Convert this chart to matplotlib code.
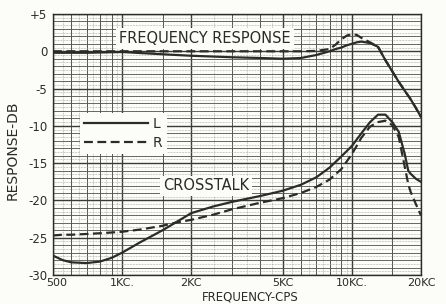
import matplotlib
matplotlib.use("Agg")
import matplotlib.pyplot as plt
import matplotlib.transforms as mtransforms
import numpy as np
from matplotlib.lines import Line2D

# ---- data ----
resp_freqs = [500, 700, 1000, 1500, 2000, 3000, 4000, 5000, 6000, 7000, 8000, 8500, 9000,
              9500, 10000, 10500, 11000, 12000, 13000, 14000, 15000, 16000, 17000, 18000, 19000, 20000]
resp_L = [-0.2, -0.2, -0.1, -0.4, -0.6, -0.8, -0.9, -1.0, -0.9, -0.5, 0.0, 0.3, 0.5,
          0.8, 1.0, 1.2, 1.3, 1.1, 0.6, -1.2, -2.7, -4.1, -5.3, -6.4, -7.6, -8.8]
resp_R = [0.0, 0.0, 0.0, 0.0, 0.0, 0.0, 0.0, 0.0, 0.0, 0.05, 0.3, 0.9, 1.6,
          2.1, 2.3, 2.2, 1.8, 1.2, 0.6, -1.2, -2.7, -4.1, -5.3, -6.4, -7.6, -8.8]

xtalk_freqs = [500, 550, 600, 700, 800, 900, 1000, 1200, 1500, 1700, 2000, 2500, 3000, 4000,
               5000, 6000, 7000, 8000, 9000, 10000, 11000, 12000, 13000, 14000, 15000, 16000,
               17000, 17600, 18000, 19000, 20000]
xtalk_L = [-27.4, -28.0, -28.3, -28.4, -28.2, -27.7, -27.0, -25.6, -24.0, -23.0, -21.7, -20.8,
           -20.2, -19.4, -18.7, -17.9, -16.9, -15.6, -14.1, -12.7, -11.0, -9.5, -8.5, -8.5,
           -9.5, -10.8, -13.8, -16.0, -16.4, -17.1, -17.5]
xtalk_R = [-24.7, -24.6, -24.6, -24.5, -24.4, -24.3, -24.2, -23.9, -23.4, -23.0, -22.6, -21.9,
           -21.2, -20.3, -19.7, -19.0, -18.2, -17.2, -15.8, -13.8, -11.6, -10.1, -9.5, -9.3,
           -9.9, -11.5, -15.5, -17.8, -18.8, -20.5, -22.0]

x_ticks = [500, 1000, 2000, 5000, 10000, 20000]
x_ticklabels = ["500", "1KC.", "2KC", "5KC", "10KC.", "20KC"]
y_ticks = [5, 0, -5, -10, -15, -20, -25, -30]
y_ticklabels = ["+5", "0", "-5", "-10", "-15", "-20", "-25", "-30"]

ink = "#2b2b28"
paper = "#fcfcf8"

fig = plt.figure(figsize=(4.46, 3.04), dpi=100, facecolor=paper)
ax = fig.add_axes([53/446, 1 - 275/304, 368/446, 261/304])
ax.set_facecolor(paper)
ax.set_xscale("log")
ax.set_xlim(500, 20000)
ax.set_ylim(-30, 5)

# graph-paper grid
fine_x = []
for dec in [100, 1000, 10000]:
    for m in np.arange(1, 10, 0.5):
        v = m * dec
        if 500 <= v <= 20000:
            fine_x.append(v)
minor_x = [600, 700, 800, 900, 1500, 3000, 4000, 6000, 7000, 8000, 9000, 15000]
for v in fine_x:
    ax.axvline(v, color="#9a9a94", lw=0.5, ls=(0, (1, 1.2)), zorder=0)
for v in minor_x:
    ax.axvline(v, color="#55554f", lw=0.7, zorder=0)
for v in x_ticks:
    ax.axvline(v, color="#3a3a36", lw=1.0, zorder=0)
for v in np.arange(-30, 5.01, 0.5):
    ax.axhline(v, color="#9a9a94", lw=0.5, ls=(0, (1, 1.2)), zorder=0)
for v in range(-30, 6):
    ax.axhline(v, color="#55554f", lw=0.6, zorder=0)
for v in y_ticks:
    ax.axhline(v, color="#3a3a36", lw=1.0, zorder=0)

ax.plot(resp_freqs, resp_L, color=ink, lw=1.6, solid_capstyle="round", zorder=3)
ax.plot(resp_freqs, resp_R, color=ink, lw=1.6, ls=(0, (4, 2)), zorder=3)
ax.plot(xtalk_freqs, xtalk_L, color=ink, lw=1.6, zorder=3)
ax.plot(xtalk_freqs, xtalk_R, color=ink, lw=1.6, ls=(0, (4, 2)), zorder=3)

for s in ax.spines.values():
    s.set_color(ink)
    s.set_linewidth(1.0)

ax.set_xticks(x_ticks)
ax.set_xticklabels(x_ticklabels)
ax.xaxis.set_minor_locator(matplotlib.ticker.NullLocator())
ax.set_yticks(y_ticks)
ax.set_yticklabels(y_ticklabels)
ax.tick_params(length=0, labelsize=8.5, colors=ink)
ax.tick_params(axis="x", pad=2, labelsize=8)
ax.tick_params(axis="y", pad=4)

# nudge the "500" label right so it clears the "-30" label
lbl500 = ax.get_xticklabels()[0]
lbl500.set_transform(lbl500.get_transform() +
                     mtransforms.ScaledTranslation(4/100, 0, fig.dpi_scale_trans))

fig.text(250/446, 1 - 297.2/304, "FREQUENCY-CPS", fontsize=8.5, color=ink,
         ha="center", va="center")
fig.text(13/446, 1 - 150/304, "RESPONSE-DB", fontsize=10, color=ink,
         ha="center", va="center", rotation=90)

bbox = dict(facecolor=paper, edgecolor="none", pad=2)
ax.text((205 - 53) / 368, 1 - (38.5 - 14) / 261, "FREQUENCY RESPONSE",
        transform=ax.transAxes, fontsize=10.5, color=ink, va="center", ha="center",
        bbox=bbox, zorder=2)
ax.text((206 - 53) / 368, 1 - (186 - 14) / 261, "CROSSTALK", transform=ax.transAxes,
        fontsize=10.5, color=ink, va="center", ha="center", bbox=bbox, zorder=2)

# legend
handles = [Line2D([], [], color=ink, lw=1.6), Line2D([], [], color=ink, lw=1.6, ls=(0, (4, 2)))]
leg = ax.legend(handles, ["L", "R"], loc="upper left",
                bbox_to_anchor=((73 - 53) / 368, 1 - (106 - 14) / 261),
                frameon=True, fontsize=10, handlelength=4.6, handletextpad=0.35,
                labelspacing=0.35, borderpad=0.3, facecolor=paper, edgecolor="none",
                framealpha=1.0, fancybox=False)
for t in leg.get_texts():
    t.set_color(ink)

fig.savefig("out.png", dpi=100, facecolor=paper)
